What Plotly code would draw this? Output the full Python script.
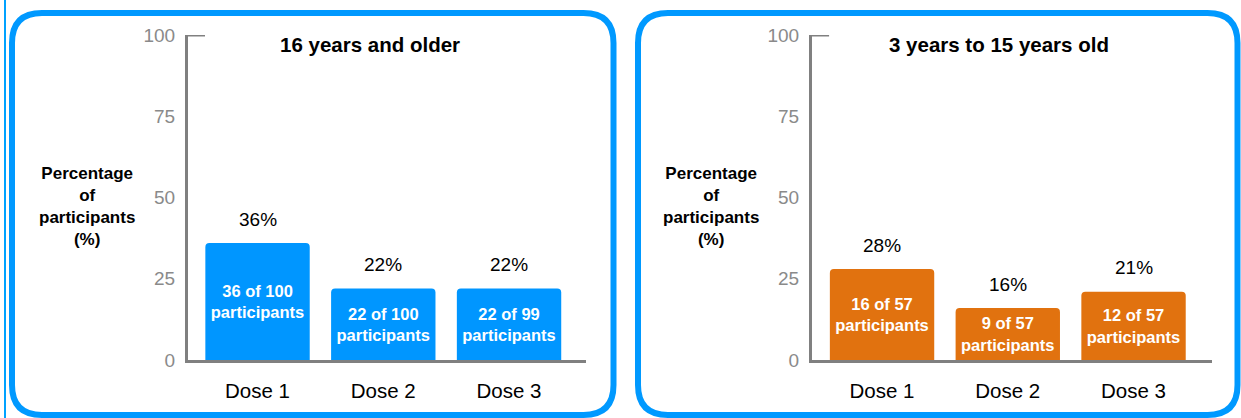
import plotly.graph_objects as go

W, H = 1241, 418

# ---------------- data ----------------
doses = ["Dose 1", "Dose 2", "Dose 3"]
older_pct = [36, 22, 22]
older_n = [36, 22, 22]
older_total = [100, 100, 99]
young_pct = [28, 16, 21]
young_n = [16, 9, 12]
young_total = [57, 57, 57]
y_ticks = [0, 25, 50, 75, 100]
titles = ["16 years and older", "3 years to 15 years old"]
y_title = "Percentage<br>of<br>participants<br>(%)"

BLUE = "#0096FF"
ORANGE = "#E1720F"
BORDER = "#0099FF"
GRAY = "#808080"
FONT = "Arial, Liberation Sans, sans-serif"


def px(x):
    return x / W


def py(y):
    return 1 - y / H


fig = go.Figure()

panels = [
    dict(pct=older_pct, n=older_n, tot=older_total, color=BLUE, xa="x", ya="y",
         xdom=(188, 586), xr=(-0.553, 2.612), title=titles[0], tx=370, ytx=87),
    dict(pct=young_pct, n=young_n, tot=young_total, color=ORANGE, xa="x2", ya="y2",
         xdom=(812, 1212), xr=(-0.557, 2.624), title=titles[1], tx=999, ytx=711),
]

annotations = []
shapes = []
ydom = (py(360), py(35))

for i, p in enumerate(panels):
    texts = [f"<b>{a} of {b}<br>participants</b>" for a, b in zip(p["n"], p["tot"])]
    fig.add_trace(go.Bar(
        x=doses, y=p["pct"], xaxis=p["xa"], yaxis=p["ya"],
        marker=dict(color=p["color"], line=dict(width=0)),
        width=0.83,
        text=texts, textposition="inside", insidetextanchor="middle",
        textangle=0,
        textfont=dict(color="white", size=16.5, family=FONT),
        hoverinfo="skip", showlegend=False,
    ))
    sfx = "" if i == 0 else "2"
    fig.update_layout(**{
        f"xaxis{sfx}": dict(
            domain=[px(p["xdom"][0]), px(p["xdom"][1])],
            range=list(p["xr"]), anchor=f"y{sfx}",
            showline=True, linecolor=GRAY, linewidth=3,
            showgrid=False, zeroline=False, ticks="", automargin=False,
            tickfont=dict(size=20.5, color="black", family=FONT),
            ticklabelstandoff=10, fixedrange=True,
        ),
        f"yaxis{sfx}": dict(
            domain=list(ydom), range=[0, 100], anchor=f"x{sfx}",
            showline=True, linecolor=GRAY, linewidth=3,
            showgrid=False, zeroline=False, ticks="", automargin=False,
            tickvals=y_ticks,
            tickfont=dict(size=19, color="#8A8A8A", family=FONT),
            ticklabelstandoff=6, fixedrange=True,
        ),
    })
    # percentage labels above bars
    for d, v in zip(doses, p["pct"]):
        annotations.append(dict(
            x=d, y=v, xref=p["xa"], yref=p["ya"], text=f"{v}%",
            showarrow=False, yshift=24, xanchor="center", yanchor="middle",
            font=dict(size=19, color="black", family=FONT),
        ))
    # panel title
    annotations.append(dict(
        x=px(p["tx"]), y=py(45), xref="paper", yref="paper",
        text=f"<b>{p['title']}</b>", showarrow=False,
        xanchor="center", yanchor="middle",
        font=dict(size=20.5, color="black", family=FONT),
    ))
    # y-axis title
    annotations.append(dict(
        x=px(p["ytx"]), y=py(206), xref="paper", yref="paper",
        text=f"<b>{y_title}</b>", showarrow=False,
        xanchor="center", yanchor="middle",
        font=dict(size=17, color="black", family=FONT),
    ))
    # top tick at 100
    shapes.append(dict(
        type="line", xref=f"x{sfx} domain", yref=f"y{sfx}",
        x0=0, x1=17 / 398, y0=100, y1=100,
        line=dict(color=GRAY, width=3),
    ))


def rounded_box(x0, y0, x1, y1, r):
    pts = [
        f"M {px(x0 + r)},{py(y0)}",
        f"L {px(x1 - r)},{py(y0)}",
        f"Q {px(x1)},{py(y0)} {px(x1)},{py(y0 + r)}",
        f"L {px(x1)},{py(y1 - r)}",
        f"Q {px(x1)},{py(y1)} {px(x1 - r)},{py(y1)}",
        f"L {px(x0 + r)},{py(y1)}",
        f"Q {px(x0)},{py(y1)} {px(x0)},{py(y1 - r)}",
        f"L {px(x0)},{py(y0 + r)}",
        f"Q {px(x0)},{py(y0)} {px(x0 + r)},{py(y0)}",
        "Z",
    ]
    return " ".join(pts)


for (bx0, bx1) in [(12, 613.5), (638, 1237.5)]:
    shapes.append(dict(
        type="path", xref="paper", yref="paper",
        path=rounded_box(bx0, 13, bx1, 415, 30),
        line=dict(color=BORDER, width=6), fillcolor="rgba(0,0,0,0)",
        layer="below",
    ))

shapes.append(dict(
    type="line", xref="paper", yref="paper",
    x0=px(5), x1=px(5), y0=0, y1=1,
    line=dict(color="#00A2FF", width=2),
))

fig.update_layout(
    width=W, height=H,
    margin=dict(l=0, r=0, t=0, b=0, autoexpand=False),
    paper_bgcolor="white", plot_bgcolor="white",
    barcornerradius=4,
    annotations=annotations, shapes=shapes,
    font=dict(family=FONT),
    uniformtext=dict(minsize=8),
)

fig.write_html("out.html", config={"displayModeBar": False})
